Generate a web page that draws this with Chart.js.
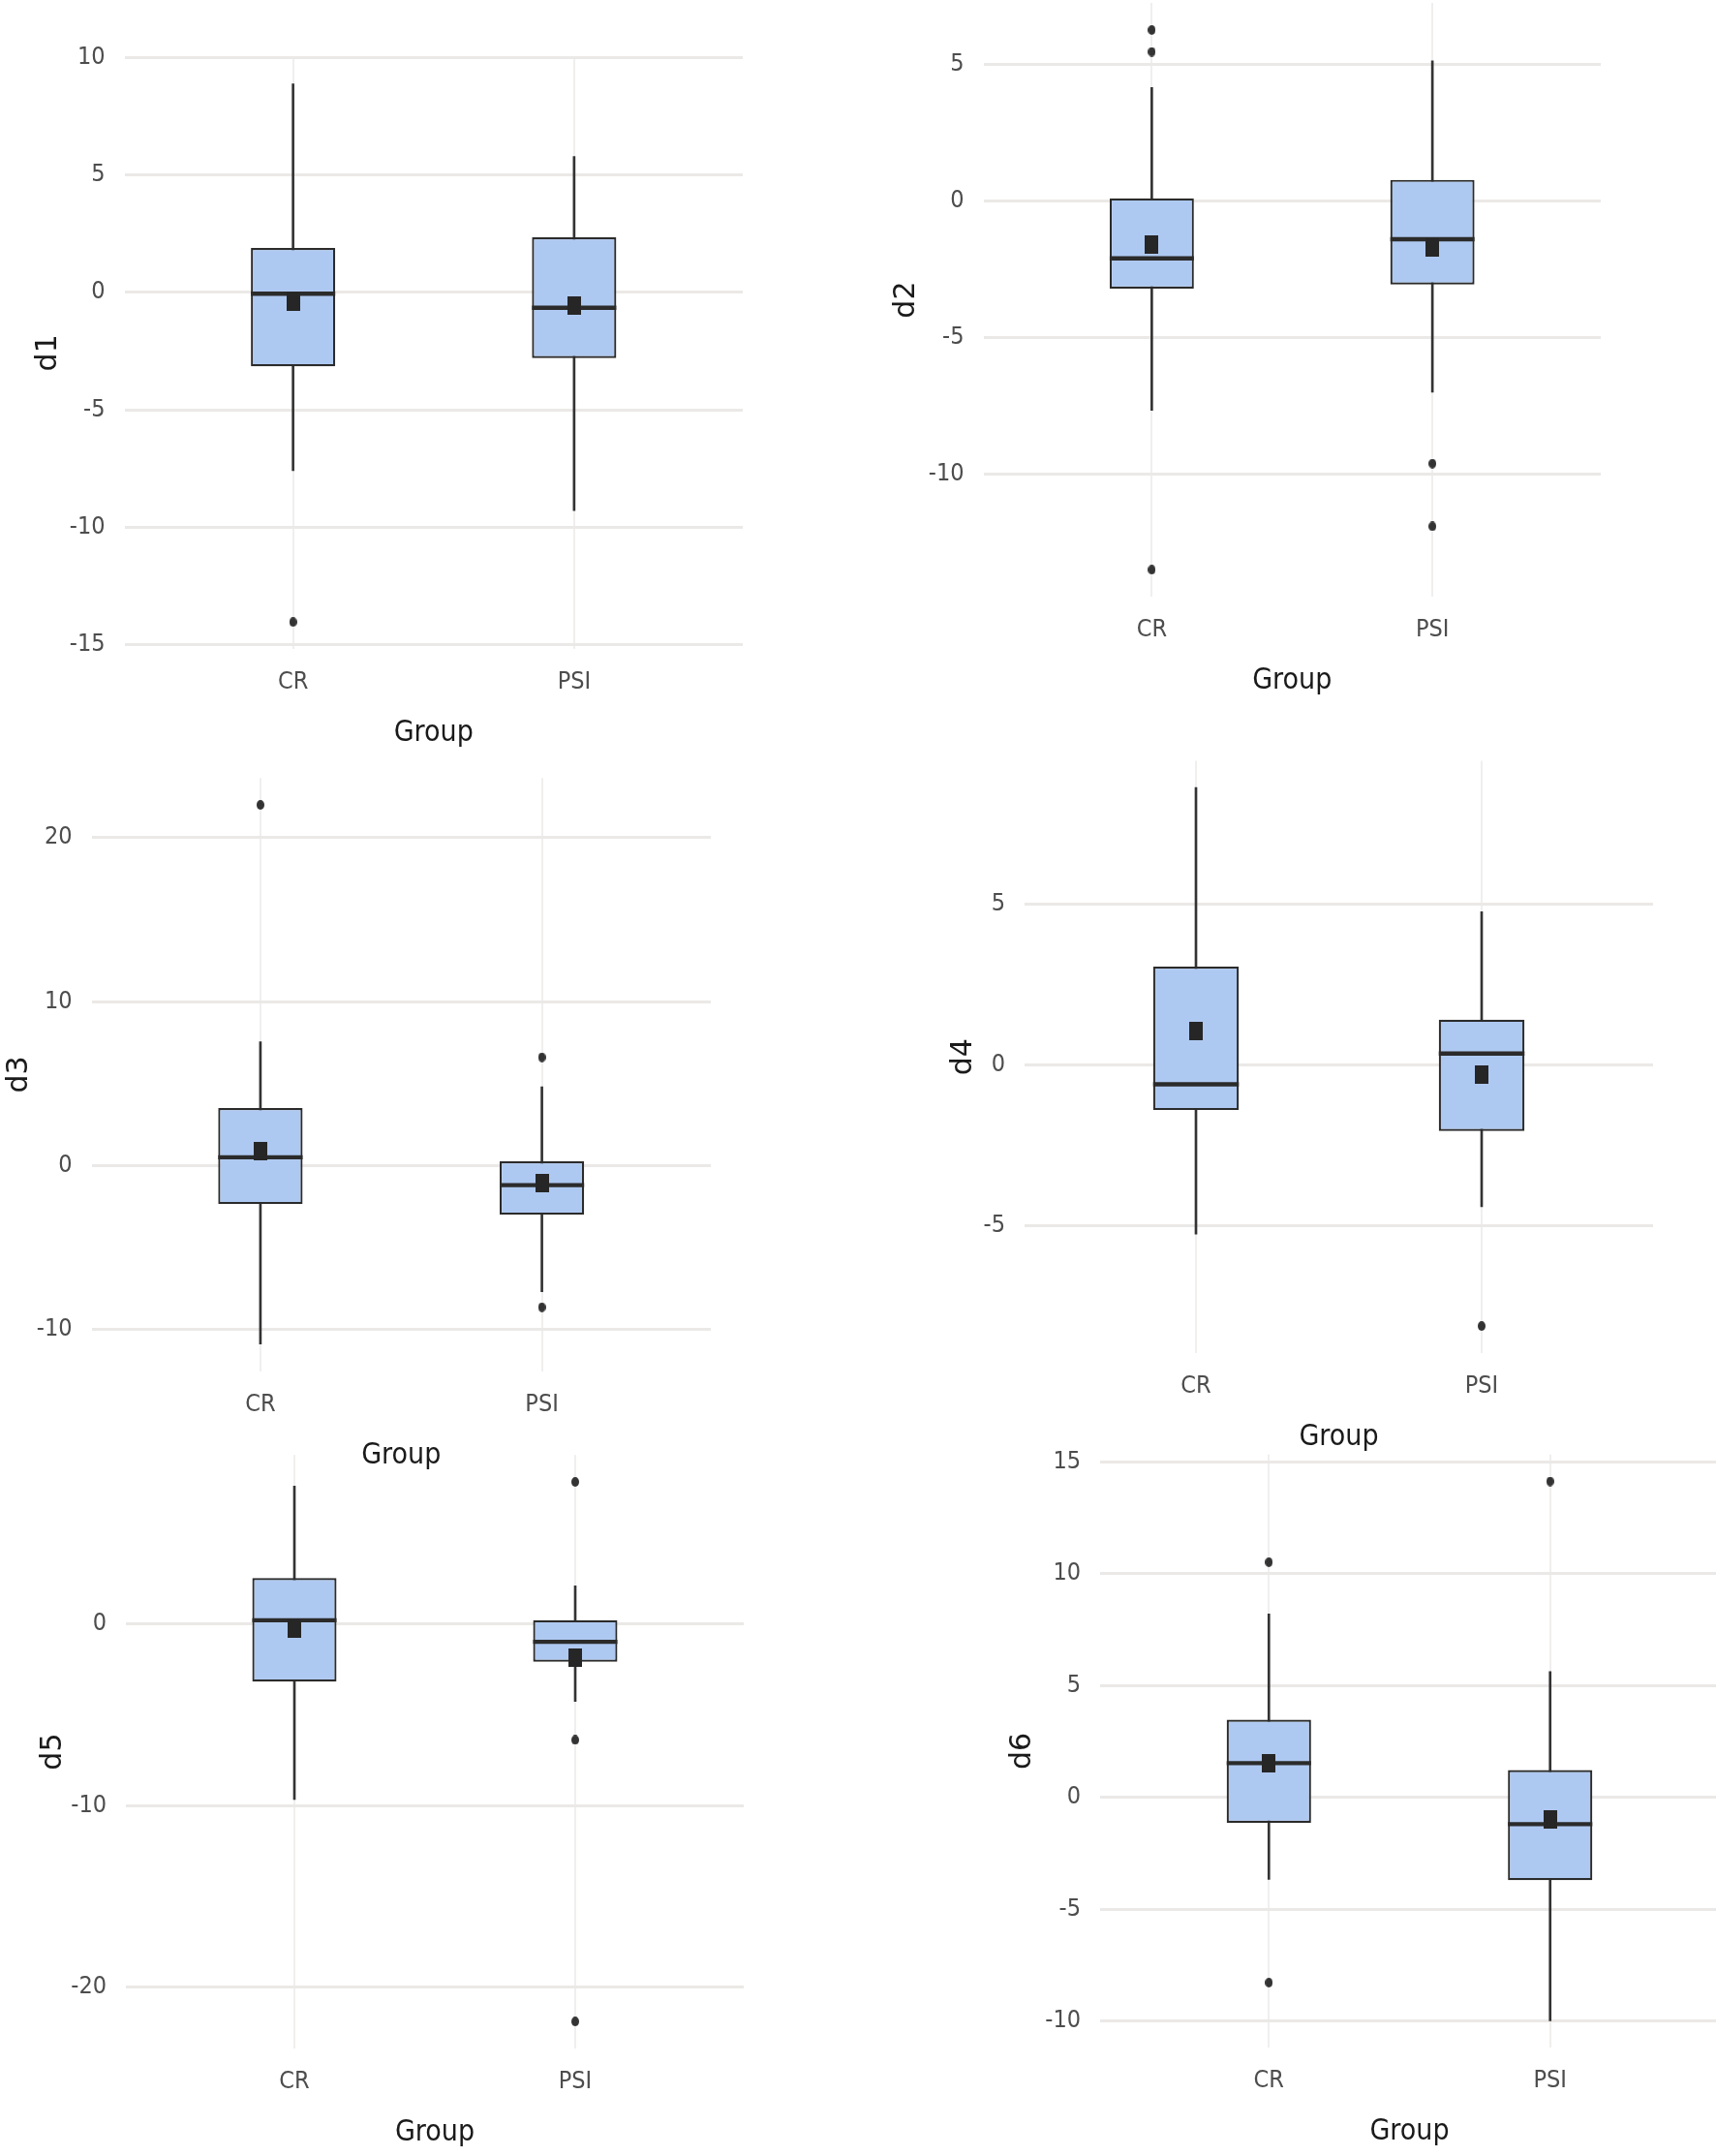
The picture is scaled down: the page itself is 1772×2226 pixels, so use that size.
<!DOCTYPE html>
<html>
<head>
<meta charset="utf-8">
<title>d1-d6 by Group</title>
<script src="https://cdn.jsdelivr.net/npm/chart.js@4.4.1/dist/chart.umd.min.js"></script>
<style>
  html, body { margin: 0; padding: 0; background: #fff; overflow: hidden; }
  body { width: 1772px; height: 2226px; position: relative; }
  canvas { position: absolute; }
</style>
</head>
<body>
<script>
// ---- data, one [CR, PSI] pair per panel ----
const groups = ['CR', 'PSI'];
const panelNames = ['d1', 'd2', 'd3', 'd4', 'd5', 'd6'];
const whiskerLow  = [[-7.6, -9.3], [-7.67, -7.0], [-10.9, -7.7], [-5.25, -4.4], [-9.67, -4.27], [-3.67, -9.99]];
const q1          = [[-3.15, -2.8], [-3.21, -3.06], [-2.35, -3.0], [-1.4, -2.05], [-3.18, -2.09], [-1.14, -3.7]];
const medians     = [[-0.05, -0.65], [-2.1, -1.4], [0.5, -1.2], [-0.6, 0.35], [0.2, -0.99], [1.53, -1.2]];
const q3          = [[1.9, 2.35], [0.1, 0.78], [3.5, 0.25], [3.05, 1.4], [2.52, 0.2], [3.47, 1.22]];
const whiskerHigh = [[8.9, 5.8], [4.16, 5.14], [7.55, 4.8], [8.6, 4.75], [7.58, 2.09], [8.2, 5.62]];
const means       = [[-0.4, -0.55], [-1.58, -1.7], [0.9, -1.1], [1.05, -0.3], [-0.25, -1.86], [1.53, -0.99]];
const outliers = [
  [[-14.05], []],
  [[6.27, 5.47, -13.51], [-9.62, -11.92]],
  [[22.0], [6.6, -8.65]],
  [[], [-8.1]],
  [[], [7.81, -6.39, -21.88]],
  [[10.51, -8.28], [14.12]]
];
const yTicks = [
  [-15, -10, -5, 0, 5, 10],
  [-10, -5, 0, 5],
  [-10, 0, 10, 20],
  [-5, 0, 5],
  [-20, -10, 0],
  [-10, -5, 0, 5, 10, 15]
];

// ---- layout: plot area of each panel in page pixels ----
const frames = [
  { L: 128.5, R: 767, T: 58.7, B: 670.0, titleX: 50 },
  { L: 1015.5, R: 1653, T: 3.1, B: 616.1, titleX: 936 },
  { L: 94.5, R: 734, T: 803.2, B: 1415.6, titleX: 20 },
  { L: 1058, R: 1707, T: 785.4, B: 1396.9, titleX: 995 },
  { L: 130, R: 768, T: 1502.2, B: 2115.0, titleX: 55 },
  { L: 1136, R: 1775, T: 1501.7, B: 2114.3, titleX: 1056 }
];

const NARROW = "'Liberation Sans Narrow', 'Arial Narrow', 'DejaVu Sans Condensed', sans-serif";
const WIDE = "'DejaVu Sans', 'Liberation Sans', sans-serif";
const TICK_SIZE = 25, GROUP_SIZE = 30, YTITLE_SIZE = 30;
const BOX_FILL = '#aec9f1';
const INK = '#2b2b2b';
const BOX_SHARE = 0.3;   // box width as a share of the category spacing

// the source figure is slightly stretched vertically, so marks are taller than wide
function marker(w, h, shape, color) {
  const c = document.createElement('canvas');
  c.width = w; c.height = h;
  const g = c.getContext('2d');
  g.fillStyle = color;
  if (shape === 'rect') {
    g.fillRect(0, 0, w, h);
  } else {
    g.beginPath();
    g.ellipse(w / 2, h / 2, w / 2, h / 2, 0, 0, Math.PI * 2);
    g.fill();
  }
  return c;
}
const meanMark = marker(14, 19, 'rect', '#262626');
const outMark = marker(8, 10, 'ellipse', '#333333');

function makePanel(i) {
  const f = frames[i];
  const cl = Math.round(f.titleX - 4 - YTITLE_SIZE / 2);
  const ct = Math.round(Math.max(0, f.T - 20));
  const cw = Math.round(f.R + 8 - cl);
  const ch = Math.round(f.B + 87 + GROUP_SIZE / 2 - ct);

  const canvas = document.createElement('canvas');
  canvas.width = cw;
  canvas.height = ch;
  canvas.style.left = cl + 'px';
  canvas.style.top = ct + 'px';
  document.body.appendChild(canvas);

  // ggplot-style y range: data extent plus 5% each side
  const all = [].concat(whiskerLow[i], whiskerHigh[i], outliers[i][0], outliers[i][1]);
  const lo = Math.min(...all), hi = Math.max(...all);
  const pad = (hi - lo) * 0.05;

  const xs = groups.map((g, k) => k + 1);
  const outPts = [];
  groups.forEach((g, k) => outliers[i][k].forEach(v => outPts.push({ x: k + 1, y: v })));
  const halfBox = BOX_SHARE * (f.R - f.L) / 2.2 / 2;

  new Chart(canvas, {
    type: 'bar',
    data: {
      datasets: [
        {
          type: 'bar', label: 'whisker', order: 5, grouped: false,
          data: xs.map((x, k) => ({ x: x, y: [whiskerLow[i][k], whiskerHigh[i][k]] })),
          backgroundColor: '#333333', barThickness: 2, borderWidth: 0
        },
        {
          type: 'bar', label: 'box', order: 4, grouped: false,
          data: xs.map((x, k) => ({ x: x, y: [q1[i][k], q3[i][k]] })),
          backgroundColor: BOX_FILL, borderColor: INK, borderWidth: 2.2, borderSkipped: false,
          categoryPercentage: 1, barPercentage: BOX_SHARE
        },
        {
          type: 'scatter', label: 'median', order: 3,
          data: xs.map((x, k) => ({ x: x, y: medians[i][k] })),
          pointStyle: 'line', pointRadius: halfBox,
          pointBorderColor: INK, pointBorderWidth: 4.4, pointBackgroundColor: INK
        },
        {
          type: 'scatter', label: 'mean', order: 2,
          data: xs.map((x, k) => ({ x: x, y: means[i][k] })),
          pointStyle: meanMark, pointRadius: 10
        },
        {
          type: 'scatter', label: 'outliers', order: 1,
          data: outPts,
          pointStyle: outMark, pointRadius: 5
        }
      ]
    },
    options: {
      responsive: false,
      animation: false,
      events: [],
      layout: {
        autoPadding: false,
        padding: { left: 0, top: f.T - ct, right: cw - (f.R - cl), bottom: 0 }
      },
      plugins: { legend: { display: false }, tooltip: { enabled: false } },
      scales: {
        x: {
          type: 'linear', min: 0.4, max: 2.6, offset: false,
          afterBuildTicks: ax => { ax.ticks = xs.map(v => ({ value: v })); },
          afterFit: ax => { ax.height = ch - (f.B - ct); ax.paddingLeft = 0; ax.paddingRight = 0; },
          grid: { offset: false, color: '#f0efee', lineWidth: 2, drawTicks: false },
          border: { display: false },
          ticks: {
            autoSkip: false, maxRotation: 0, padding: 22, color: '#4d4d4d',
            font: { family: NARROW, size: TICK_SIZE, lineHeight: 1 },
            callback: (v, idx) => groups[idx]
          },
          title: {
            display: true, text: 'Group', color: '#1a1a1a', padding: { top: 0, bottom: 0 },
            font: { family: NARROW, size: GROUP_SIZE, lineHeight: 1 }
          }
        },
        y: {
          type: 'linear', min: lo - pad, max: hi + pad,
          afterBuildTicks: ax => { ax.ticks = yTicks[i].map(v => ({ value: v })); },
          afterFit: ax => { ax.width = f.L - cl; ax.paddingTop = 0; ax.paddingBottom = 0; },
          grid: { color: '#ebe9e7', lineWidth: 3, drawTicks: false },
          border: { display: false },
          ticks: {
            padding: 20, color: '#4d4d4d',
            font: { family: NARROW, size: TICK_SIZE, lineHeight: 1 },
            callback: v => String(v)
          },
          title: {
            display: true, text: panelNames[i], color: '#1a1a1a', padding: { top: 4, bottom: 0 },
            font: { family: WIDE, size: YTITLE_SIZE, lineHeight: 1 }
          }
        }
      }
    }
  });
}

panelNames.forEach((n, i) => makePanel(i));
</script>
</body>
</html>
